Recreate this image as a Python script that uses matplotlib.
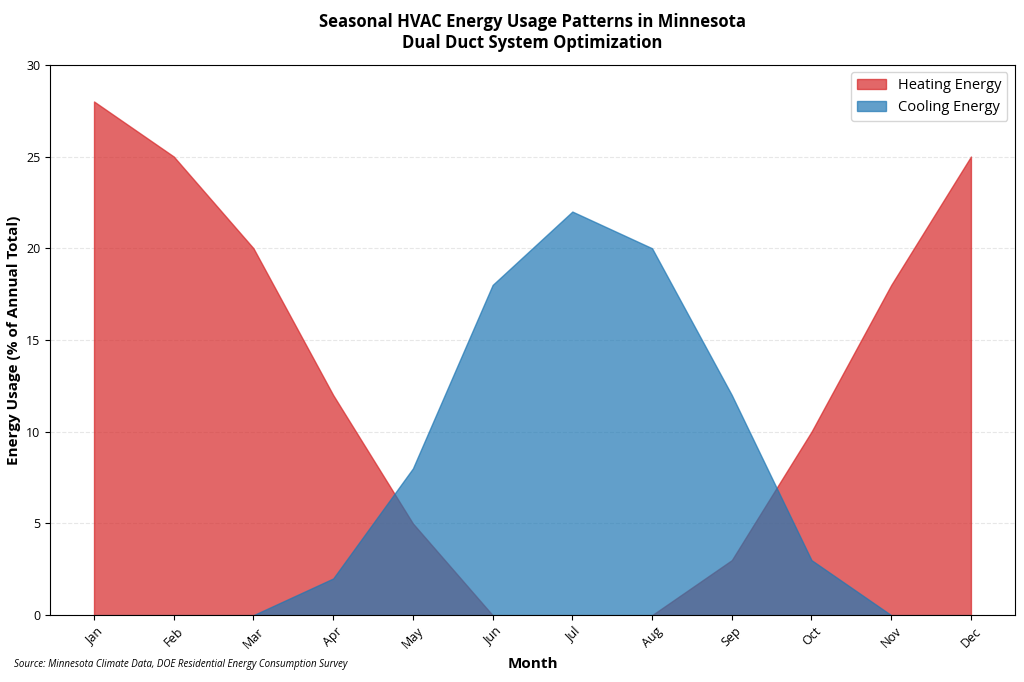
import matplotlib.pyplot as plt
import numpy as np

plt.rcParams['font.family'] = ['Open Sans', 'DejaVu Sans']

months = ["Jan", "Feb", "Mar", "Apr", "May", "Jun", "Jul", "Aug", "Sep", "Oct", "Nov", "Dec"]
heating = [28, 25, 20, 12, 5, 0, 0, 0, 3, 10, 18, 25]
cooling = [0, 0, 0, 2, 8, 18, 22, 20, 12, 3, 0, 0]

x = np.arange(len(months))

fig, ax = plt.subplots(figsize=(10.24, 6.82), dpi=100)
fig.subplots_adjust(left=0.049, right=0.991, top=0.905, bottom=0.098)

ax.fill_between(x, heating, color="#d62728", alpha=0.7, label="Heating Energy")
ax.fill_between(x, cooling, color="#1f77b4", alpha=0.7, label="Cooling Energy")

ax.set_ylim(0, 30)
ax.set_xticks(x)
ax.set_xticklabels(months, rotation=45)
ax.tick_params(labelsize=9)
ax.yaxis.grid(True, linestyle="--", alpha=0.3)
ax.set_axisbelow(True)

ax.set_xlabel("Month", fontsize=11, fontweight="bold")
ax.set_ylabel("Energy Usage (% of Annual Total)", fontsize=11, fontweight="bold")
ax.set_title("Seasonal HVAC Energy Usage Patterns in Minnesota\nDual Duct System Optimization",
             fontsize=12, fontweight="bold", pad=12)
ax.legend(loc="upper right", fontsize=10.5)

fig.text(0.014, 0.022, "Source: Minnesota Climate Data, DOE Residential Energy Consumption Survey",
         fontsize=7, style="italic", stretch="normal")

plt.savefig("out.png")
